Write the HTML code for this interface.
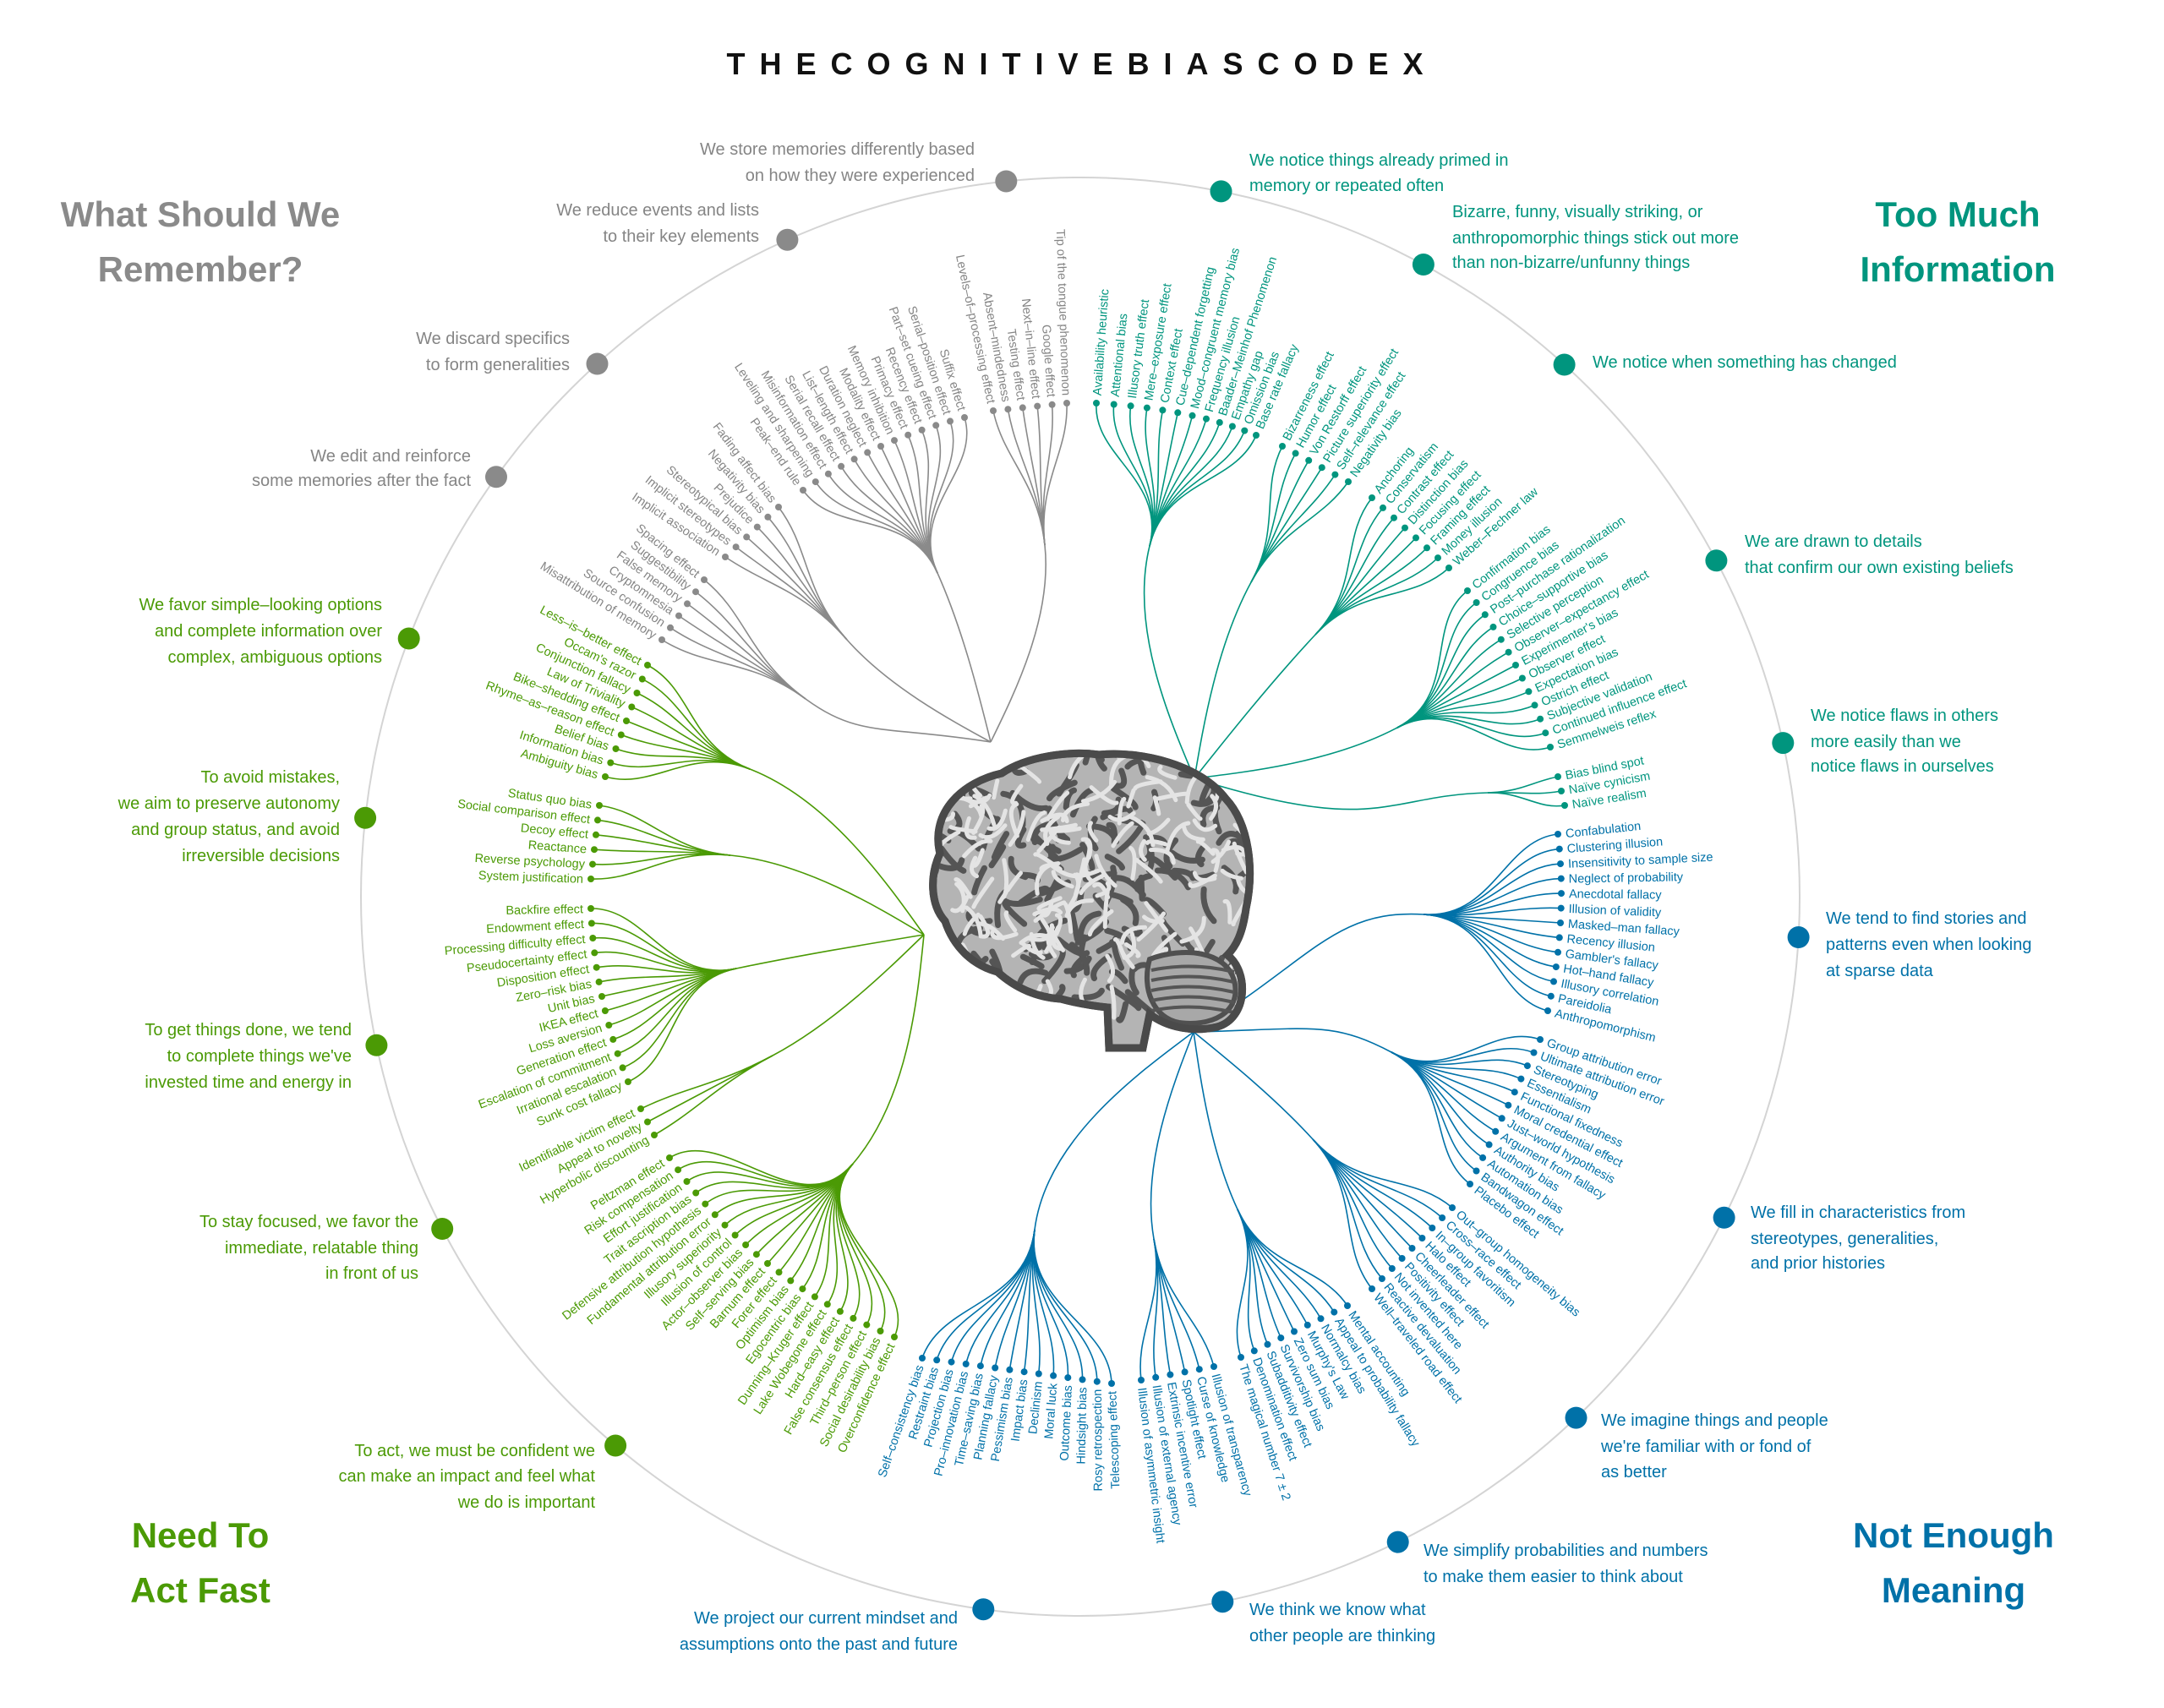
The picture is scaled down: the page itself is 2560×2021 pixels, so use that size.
<!DOCTYPE html>
<html><head><meta charset="utf-8">
<style>
html,body{margin:0;padding:0;background:#fff;}
svg{display:block;font-family:"Liberation Sans",Arial,sans-serif;}
</style></head>
<body>
<svg id="s" width="2560" height="2021" viewBox="0 0 2560 2021">
<rect width="2560" height="2021" fill="#fff"/>
<text x="1280" y="88" text-anchor="middle" font-size="36" font-weight="bold" letter-spacing="17" fill="#111">THECOGNITIVEBIASCODEX</text>
<circle cx="1278" cy="1061" r="851" fill="none" stroke="#d4d4d4" stroke-width="2"/>
<g font-weight="bold" font-size="42" text-anchor="middle">
<text x="237" y="268" fill="#8a8a8a">What Should We</text>
<text x="237" y="333" fill="#8a8a8a">Remember?</text>
<text x="2316" y="268" fill="#00957e">Too Much</text>
<text x="2316" y="333" fill="#00957e">Information</text>
<text x="237" y="1831" fill="#4b9a05">Need To</text>
<text x="237" y="1896" fill="#4b9a05">Act Fast</text>
<text x="2311" y="1831" fill="#0071a8">Not Enough</text>
<text x="2311" y="1896" fill="#0071a8">Meaning</text>
</g>
<g id="cats" font-size="20"></g>
<g id="tree"></g>
<g id="brain"></g>
</svg>
<script>
var COL={g:"#8a8a8a",n:"#4b9a05",b:"#0071a8",t:"#00957e"};
var TXT={g:"#858585",n:"#4b9a05",b:"#0071a8",t:"#00957e"};
var CX=1278,CY=1061,RR=851;
var cats=[
["g",[1190,212],"end",1153,[183,214],["We store memories differently based","on how they were experienced"]],
["g",[931,283],"end",898,[255,286],["We reduce events and lists","to their key elements"]],
["g",[707,431],"end",674,[407,438],["We discard specifics","to form generalities"]],
["g",[588,565],"end",557,[546,575],["We edit and reinforce","some memories after the fact"]],
["n",[485,756],"end",452,[722,753,784],["We favor simple–looking options","and complete information over","complex, ambiguous options"]],
["n",[434,968],"end",402,[926,957,988,1019],["To avoid mistakes,","we aim to preserve autonomy","and group status, and avoid","irreversible decisions"]],
["n",[449,1236],"end",416,[1225,1256,1287],["To get things done, we tend","to complete things we've","invested time and energy in"]],
["n",[527,1452],"end",495,[1452,1483,1513],["To stay focused, we favor the","immediate, relatable thing","in front of us"]],
["n",[737,1700],"end",704,[1723,1753,1784],["To act, we must be confident we","can make an impact and feel what","we do is important"]],
["b",[1164,1899],"end",1133,[1921,1952],["We project our current mindset and","assumptions onto the past and future"]],
["b",[1445,1889],"start",1478,[1911,1942],["We think we know what","other people are thinking"]],
["b",[1651,1819],"start",1684,[1841,1872],["We simplify probabilities and numbers","to make them easier to think about"]],
["b",[1862,1675],"start",1894,[1687,1718,1748],["We imagine things and people","we're familiar with or fond of","as better"]],
["b",[2038,1440],"start",2071,[1441,1472,1501],["We fill in characteristics from","stereotypes, generalities,","and prior histories"]],
["b",[2128,1109],"start",2160,[1093,1124,1155],["We tend to find stories and","patterns even when looking","at sparse data"]],
["t",[2110,879],"start",2142,[853,884,913],["We notice flaws in others","more easily than we","notice flaws in ourselves"]],
["t",[2031,663],"start",2064,[647,678],["We are drawn to details","that confirm our own existing beliefs"]],
["t",[1852,430],"start",1884,[435],["We notice when something has changed"]],
["t",[1685,311],"start",1718,[257,288,317],["Bizarre, funny, visually striking, or","anthropomorphic things stick out more","than non-bizarre/unfunny things"]],
["t",[1445,224],"start",1478,[196,226],["We notice things already primed in","memory or repeated often"]]
];
var s="";
cats.forEach(function(c){
 var a=Math.atan2(c[1][1]-CY,c[1][0]-CX);
 var x=CX+RR*Math.cos(a),y=CY+RR*Math.sin(a);
 s+='<circle cx="'+x.toFixed(1)+'" cy="'+y.toFixed(1)+'" r="13" fill="'+COL[c[0]]+'"/>';
 c[5].forEach(function(l,i){s+='<text x="'+c[3]+'" y="'+c[4][i]+'" text-anchor="'+c[2]+'" fill="'+TXT[c[0]]+'">'+l+'</text>';});
});
document.getElementById("cats").innerHTML=s;

var GR=[1172,878],GN=[1093,1106],GB=[1412,1221],GT=[1413,921];
var groups=[
{c:"g",a:"end",L0:[1262,477],L1:[1175,486],r0:88,r1:78,H:[1236,645],R:GR,it:["Tip of the tongue phenomenon","Google effect","Next–in–line effect","Testing effect","Absent–mindedness","Levels–of–processing effect"]},
{c:"g",a:"end",L0:[1141,494],L1:[950,580],M:[1042,528],r0:73,r1:55,H:[1109,678],R:GR,it:["Suffix effect","Serial–position effect","Part–set cueing effect","Recency effect","Primacy effect","Memory inhibition","Modality effect","Duration neglect","List–length effect","Serial recall effect","Misinformation effect","Leveling and sharpening","Peak–end rule"]},
{c:"g",a:"end",L0:[921,600],L1:[858,659],r0:53,r1:34,H:[1002,757],R:GR,it:["Fading affect bias","Negativity bias","Prejudice","Stereotypical bias","Implicit stereotypes","Implicit association"]},
{c:"g",a:"end",L0:[833,686],L1:[783,757],r0:39,r1:32,H:[953,827],R:GR,V:[1046,858],it:["Spacing effect","Suggestibility","False memory","Cryptomnesia","Source confusion","Misattribution of memory"]},
{c:"n",a:"end",L0:[766,787],L1:[716,919],r0:28,r1:16,H:[887,910],R:GN,it:["Less–is–better effect","Occam's razor","Conjunction fallacy","Law of Triviality","Bike–shedding effect","Rhyme–as–reason effect","Belief bias","Information bias","Ambiguity bias"]},
{c:"n",a:"end",L0:[709,953],L1:[699,1040],r0:8,r1:2,H:[864,1012],R:GN,it:["Status quo bias","Social comparison effect","Decoy effect","Reactance","Reverse psychology","System justification"]},
{c:"n",a:"end",L0:[699,1075],L1:[743,1280],M:[712,1179],r0:-1,r1:-24,H:[871,1146],R:GN,it:["Backfire effect","Endowment effect","Processing difficulty effect","Pseudocertainty effect","Disposition effect","Zero–risk bias","Unit bias","IKEA effect","Loss aversion","Generation effect","Escalation of commitment","Irrational escalation","Sunk cost fallacy"]},
{c:"n",a:"end",L0:[758,1312],L1:[774,1343],r0:-26,r1:-30,H:[914,1249],R:GN,it:["Identifiable victim effect","Appeal to novelty","Hyperbolic discounting"]},
{c:"n",a:"end",L0:[792,1370],L1:[1058,1582],M:[908,1495],r0:-32,r1:-65,H:[1009,1377],R:GN,it:["Peltzman effect","Risk compensation","Effort justification","Trait ascription bias","Defensive attribution hypothesis","Fundamental attribution error","Illusory superiority","Illusion of control","Actor–observer bias","Self–serving bias","Barnum effect","Forer effect","Optimism bias","Egocentric bias","Dunning–Kruger effect","Lake Wobegone effect","Hard–easy effect","False consensus effect","Third–person effect","Social desirability bias","Overconfidence effect"]},
{c:"b",a:"end",L0:[1091,1607],L1:[1315,1637],r0:-71,r1:-92,H:[1224,1455],R:GB,it:["Self–consistency bias","Restraint bias","Projection bias","Pro–innovation bias","Time–saving bias","Planning fallacy","Pessimism bias","Impact bias","Declinism","Moral luck","Outcome bias","Hindsight bias","Rosy retrospection","Telescoping effect"]},
{c:"b",a:"start",L0:[1350,1633],L1:[1436,1617],r0:83,r1:75,H:[1365,1466],R:GB,it:["Illusion of asymmetric insight","Illusion of external agency","Extrinsic incentive error","Spotlight effect","Curse of knowledge","Illusion of transparency"]},
{c:"b",a:"start",L0:[1468,1606],L1:[1594,1545],r0:72,r1:56,H:[1464,1431],R:GB,it:["The magical number 7 ± 2","Denomination effect","Subadditivity effect","Survivorship bias","Zero sum bias","Murphy's Law","Normalcy bias","Appeal to probability fallacy","Mental accounting"]},
{c:"b",a:"start",L0:[1623,1525],L1:[1718,1429],r0:52,r1:40,H:[1553,1348],R:GB,it:["Well–traveled road effect","Reactive devaluation","Not invented here","Positivity effect","Cheerleader effect","Halo effect","In–group favoritism","Cross–race effect","Out–group homogeneity bias"]},
{c:"b",a:"start",L0:[1822,1230],L1:[1739,1401],r0:19,r1:37,H:[1646,1245],R:GB,V:[1550,1218],it:["Group attribution error","Ultimate attribution error","Stereotyping","Essentialism","Functional fixedness","Moral credential effect","Just–world hypothesis","Argument from fallacy","Authority bias","Automation bias","Bandwagon effect","Placebo effect"]},
{c:"b",a:"start",L0:[1843,987],L1:[1831,1196],M:[1846,1092],r0:-6,r1:14,H:[1684,1082],R:GB,V:[1550,1138],it:["Confabulation","Clustering illusion","Insensitivity to sample size","Neglect of probability","Anecdotal fallacy","Illusion of validity","Masked–man fallacy","Recency illusion","Gambler's fallacy","Hot–hand fallacy","Illusory correlation","Pareidolia","Anthropomorphism"]},
{c:"t",a:"start",L0:[1843,919],L1:[1851,953],r0:-11,r1:-9,H:[1760,938],R:GT,V:[1633,990],it:["Bias blind spot","Naïve cynicism","Naïve realism"]},
{c:"t",a:"start",L0:[1736,699],L1:[1834,884],M:[1793,787],r0:-38,r1:-18,H:[1653,861],R:GT,it:["Confirmation bias","Congruence bias","Post–purchase rationalization","Choice–supportive bias","Selective perception","Observer–expectancy effect","Experimenter's bias","Observer effect","Expectation bias","Ostrich effect","Subjective validation","Continued influence effect","Semmelweis reflex"]},
{c:"t",a:"start",L0:[1623,589],L1:[1714,672],r0:-52,r1:-42,H:[1556,751],R:GT,it:["Anchoring","Conservatism","Contrast effect","Distinction bias","Focusing effect","Framing effect","Money illusion","Weber–Fechner law"]},
{c:"t",a:"start",L0:[1517,528],L1:[1595,570],r0:-63,r1:-55,H:[1480,689],R:GT,it:["Bizarreness effect","Humor effect","Von Restorff effect","Picture superiority effect","Self–relevance effect","Negativity bias"]},
{c:"t",a:"start",L0:[1297,477],L1:[1486,515],M:[1402,490],r0:-86,r1:-67,H:[1360,646],R:GT,it:["Availability heuristic","Attentional bias","Illusory truth effect","Mere–exposure effect","Context effect","Cue–dependent forgetting","Mood–congruent memory bias","Frequency illusion","Baader–Meinhof Phenomenon","Empathy gap","Omission bias","Base rate fallacy"]}
];
function f(v){return v.toFixed(1);}
function P(p){return f(p[0])+","+f(p[1]);}
var lines="",dots="",texts="";
groups.forEach(function(g){
 var n=g.it.length,col=COL[g.c],tc=TXT[g.c];
 var C=null;
 if(g.M){C=[2*g.M[0]-(g.L0[0]+g.L1[0])/2,2*g.M[1]-(g.L0[1]+g.L1[1])/2];}
 var pts=[],mx=0,my=0;
 for(var i=0;i<n;i++){
  var t=n>1?i/(n-1):0,p;
  if(C){var a=(1-t)*(1-t),b=2*(1-t)*t,c=t*t;p=[a*g.L0[0]+b*C[0]+c*g.L1[0],a*g.L0[1]+b*C[1]+c*g.L1[1]];}
  else p=[g.L0[0]+(g.L1[0]-g.L0[0])*t,g.L0[1]+(g.L1[1]-g.L0[1])*t];
  pts.push([p,g.r0+(g.r1-g.r0)*t]);mx+=p[0]/n;my+=p[1]/n;
 }
 var H=g.H,ux=H[0]-mx,uy=H[1]-my,ul=Math.hypot(ux,uy);ux/=ul;uy/=ul;
 pts.forEach(function(q,i){
  var L=q[0],th=q[1]*Math.PI/180,dx=Math.cos(th),dy=Math.sin(th);
  var ix=g.a=="start"?-dx:dx,iy=g.a=="start"?-dy:dy;
  var d=Math.hypot(H[0]-L[0],H[1]-L[1]);
  var c1=[L[0]+ix*0.35*d,L[1]+iy*0.35*d],c2=[H[0]-ux*0.45*d,H[1]-uy*0.45*d];
  lines+='<path d="M'+P(L)+"C"+P(c1)+" "+P(c2)+" "+P(H)+'" stroke="'+col+'"/>';
  dots+='<circle cx="'+f(L[0])+'" cy="'+f(L[1])+'" r="4" fill="'+col+'"/>';
  var k=g.a=="start"?9:-9,tx=L[0]+dx*k,ty=L[1]+dy*k;
  texts+='<text x="'+f(tx)+'" y="'+f(ty)+'" dy=".35em" text-anchor="'+g.a+'" fill="'+tc+'" transform="rotate('+f(q[1])+" "+f(tx)+" "+f(ty)+')">'+g.it[i]+'</text>';
 });
 var R=g.R,D=Math.hypot(R[0]-H[0],R[1]-H[1]);
 var c1=[H[0]+ux*0.35*D,H[1]+uy*0.35*D],c2;
 if(g.V){c2=g.V;}else{c2=[R[0]+(c1[0]-R[0])*0.4,R[1]+(c1[1]-R[1])*0.4];}
 lines+='<path d="M'+P(H)+"C"+P(c1)+" "+P(c2)+" "+P(R)+'" stroke="'+col+'"/>';
});
document.getElementById("tree").innerHTML='<g fill="none" stroke-width="1.6">'+lines+'</g>'+dots+'<g font-size="14.5">'+texts+'</g>';

// brain
var b='';
var outline="M1112,1010 C1100,960 1140,925 1185,915 C1215,895 1265,888 1300,893 C1350,888 1420,905 1450,945 C1478,975 1484,1030 1474,1075 C1470,1105 1462,1120 1452,1130 C1478,1150 1476,1205 1440,1215 C1410,1222 1380,1215 1360,1200 L1352,1240 L1312,1240 L1310,1192 C1290,1190 1270,1186 1255,1182 C1225,1180 1200,1168 1180,1150 C1150,1142 1128,1120 1118,1090 C1100,1070 1100,1035 1112,1010 Z";
b+='<path d="'+outline+'" fill="#b4b4b4" stroke="#505050" stroke-width="9"/>';
b+='<clipPath id="bc"><path d="'+outline+'"/></clipPath><g clip-path="url(#bc)" fill="none" stroke-linecap="round">';
var seed=11;function rnd(){seed=(seed*16807)%2147483647;return (seed-1)/2147483646;}
var gy1="",gy2="";
for(var i=0;i<320;i++){
 var x=1105+rnd()*375,y=890+rnd()*300;
 var a=rnd()*6.28,l=18+rnd()*26;
 var x2=x+Math.cos(a)*l,y2=y+Math.sin(a)*l;
 var cx=(x+x2)/2+(rnd()-0.5)*30,cy=(y+y2)/2+(rnd()-0.5)*30;
 var d='M'+f(x)+','+f(y)+'Q'+f(cx)+','+f(cy)+' '+f(x2)+','+f(y2);
 if(i%2)gy1+='<path d="'+d+'"/>';else gy2+='<path d="'+d+'"/>';
}
b+='<g stroke="#555" stroke-width="7">'+gy2+'</g><g stroke="#e4e4e4" stroke-width="5">'+gy1+'</g>';
b+='</g>';
b+='<path d="M1360,1135 C1400,1120 1450,1125 1460,1160 C1470,1200 1430,1215 1395,1210 C1365,1205 1350,1170 1360,1135 Z" fill="#a8a8a8" stroke="#505050" stroke-width="6"/>';
for(var j=0;j<5;j++){b+='<path d="M1362,'+(1148+j*12)+' Q1410,'+(1138+j*12)+' 1460,'+(1150+j*12)+'" stroke="#555" stroke-width="4" fill="none"/>';}
b+='<path d="'+outline+'" fill="none" stroke="#4a4a4a" stroke-width="9"/>';
document.getElementById("brain").innerHTML=b;
</script>
</body></html>
